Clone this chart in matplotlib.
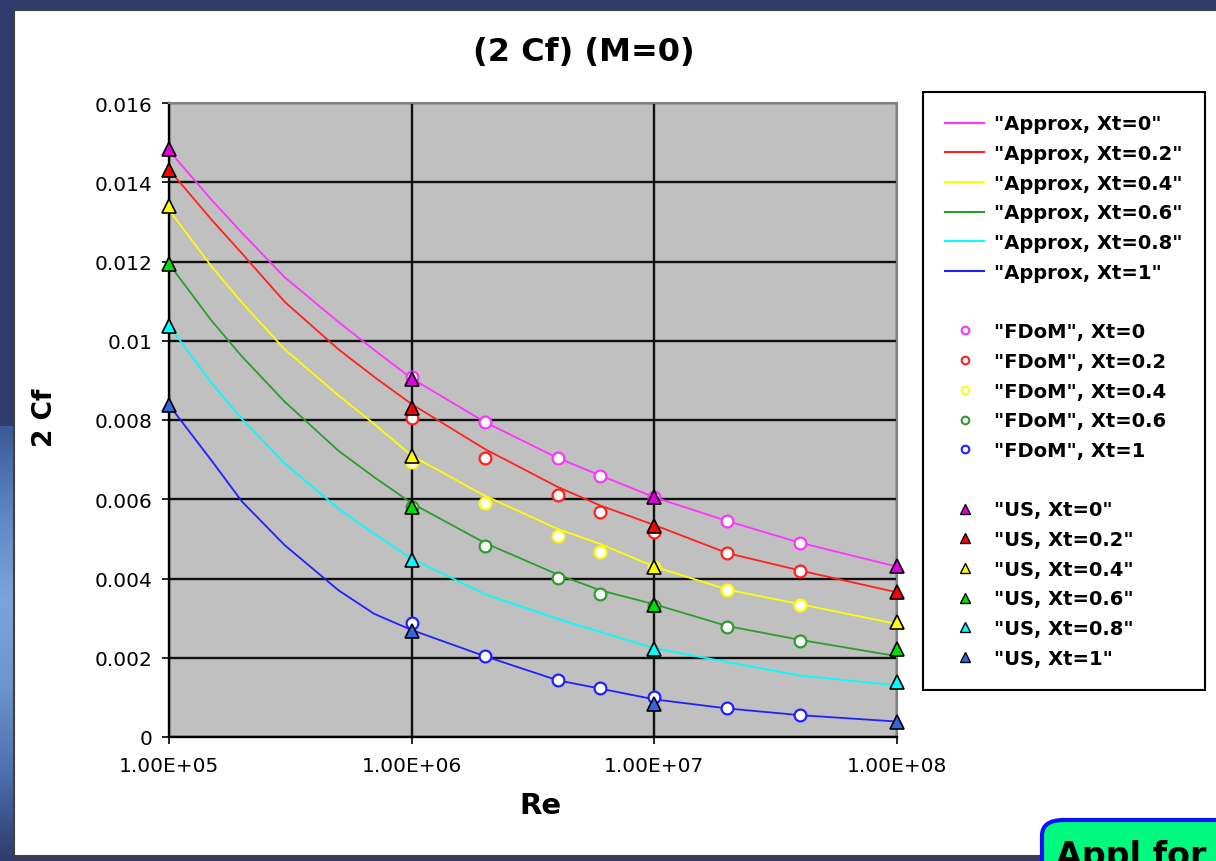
import numpy as np
import matplotlib
matplotlib.use("Agg")
import matplotlib.pyplot as plt
from matplotlib.lines import Line2D
from matplotlib.patches import Rectangle, FancyBboxPatch
from matplotlib.colors import LinearSegmentedColormap

# ---------------------------------------------------------------- data
re_approx = [1e5, 1.5e5, 2e5, 3e5, 5e5, 7e5, 1e6, 2e6, 4e6, 6e6, 1e7, 2e7, 4e7, 1e8]
approx_xt0 = [0.0148, 0.01355, 0.01272, 0.0116, 0.01047, 0.00977, 0.00905,
              0.00795, 0.00704, 0.0066, 0.00605, 0.00545, 0.0049, 0.0043]
approx_xt02 = [0.01432, 0.01305, 0.0122, 0.01098, 0.00978, 0.00909, 0.0084,
               0.00727, 0.00631, 0.00584, 0.00535, 0.00464, 0.0042, 0.00365]
approx_xt04 = [0.0133, 0.01187, 0.01096, 0.00978, 0.00862, 0.0079, 0.0071,
               0.00609, 0.00525, 0.00487, 0.0043, 0.00372, 0.00335, 0.00285]
approx_xt06 = [0.01194, 0.0105, 0.0096, 0.00846, 0.00722, 0.00656, 0.0059,
               0.0049, 0.0041, 0.0037, 0.00335, 0.0028, 0.00245, 0.00204]
approx_xt08 = [0.01038, 0.00893, 0.00802, 0.0069, 0.00576, 0.00513, 0.0045,
               0.00361, 0.00298, 0.00265, 0.00224, 0.00189, 0.00155, 0.0013]
approx_xt1 = [0.00838, 0.00697, 0.00594, 0.00484, 0.0037, 0.00311, 0.0027,
              0.00204, 0.00143, 0.00122, 0.00095, 0.00072, 0.00055, 0.00039]

re_fdom = [1e6, 2e6, 4e6, 6e6, 1e7, 2e7, 4e7]
fdom_xt0 = [0.00908, 0.00795, 0.00704, 0.00659, 0.00606, 0.00545, 0.0049]
fdom_xt02 = [0.00805, 0.00704, 0.00611, 0.00568, 0.00518, 0.00464, 0.0042]
fdom_xt04 = [0.00694, 0.0059, 0.00507, 0.00468, 0.0043, 0.00372, 0.00333]
fdom_xt06 = [0.0058, 0.00482, 0.00401, 0.00361, 0.0033, 0.00278, 0.00243]
fdom_xt1 = [0.00288, 0.00204, 0.00145, 0.00124, 0.00101, 0.00073, 0.00056]

re_us = [1e5, 1e6, 1e7, 1e8]
us_xt0 = [0.01484, 0.00904, 0.00605, 0.00432]
us_xt02 = [0.01432, 0.0083, 0.00533, 0.00366]
us_xt04 = [0.0134, 0.0071, 0.00429, 0.00291]
us_xt06 = [0.01194, 0.0058, 0.00333, 0.00222]
us_xt08 = [0.01038, 0.00447, 0.00222, 0.00139]
us_xt1 = [0.00838, 0.00268, 0.00083, 0.00039]

approx_labels = ['"Approx, Xt=0"', '"Approx, Xt=0.2"', '"Approx, Xt=0.4"',
                 '"Approx, Xt=0.6"', '"Approx, Xt=0.8"', '"Approx, Xt=1"']
fdom_labels = ['"FDoM", Xt=0', '"FDoM", Xt=0.2', '"FDoM", Xt=0.4',
               '"FDoM", Xt=0.6', '"FDoM", Xt=1']
us_labels = ['"US, Xt=0"', '"US, Xt=0.2"', '"US, Xt=0.4"',
             '"US, Xt=0.6"', '"US, Xt=0.8"', '"US, Xt=1"']

xtick_vals = [1e5, 1e6, 1e7, 1e8]
xtick_labels = ["1.00E+05", "1.00E+06", "1.00E+07", "1.00E+08"]
ytick_vals = [0, 0.002, 0.004, 0.006, 0.008, 0.01, 0.012, 0.014, 0.016]
ytick_labels = ["0", "0.002", "0.004", "0.006", "0.008", "0.01", "0.012", "0.014", "0.016"]

# colours
line_cols = ["#FF33FF", "#FF2020", "#FFFF00", "#2E9B2E", "#00FFFF", "#2020FF"]
fdom_cols = ["#FF33FF", "#FF2020", "#FFFF00", "#2E9B2E", "#2020FF"]
us_cols = ["#E000E0", "#FF0000", "#FFFF00", "#00E000", "#00FFFF", "#3366E0"]

W, H = 1216, 862


def fx(px):
    return px / W


def fy(py):
    return 1 - py / H


plt.rcParams['font.family'] = ['DejaVu Sans']

fig = plt.figure(figsize=(W / 100, H / 100), dpi=100)
fig.patch.set_facecolor("#2E3B6C")

# light blue strip on the left edge (background of the screenshot)
strip = fig.add_axes([0, 0, fx(14), 1 - fy(435)], zorder=-5)
cmap = LinearSegmentedColormap.from_list(
    "strip", ["#3B5A98", "#5E86C4", "#7CA4DC", "#6C94CE", "#4D6FAE", "#2E3B6C"])
strip.imshow(np.linspace(0, 1, 200).reshape(-1, 1), aspect="auto", cmap=cmap,
             extent=[0, 1, 0, 1])
strip.set_axis_off()

# white chart area
fig.patches.append(Rectangle((fx(14), fy(857)), fx(1230 - 14), fy(11) - fy(857),
                             transform=fig.transFigure, facecolor="white",
                             edgecolor="#404040", linewidth=1.5, zorder=-1))

ax = fig.add_axes([fx(169), fy(738), fx(897 - 169), fy(104) - fy(738)])
ax.set_facecolor("#C0C0C0")

approx_sets = [approx_xt0, approx_xt02, approx_xt04, approx_xt06, approx_xt08, approx_xt1]
fdom_sets = [fdom_xt0, fdom_xt02, fdom_xt04, fdom_xt06, fdom_xt1]
us_sets = [us_xt0, us_xt02, us_xt04, us_xt06, us_xt08, us_xt1]

for vals, c in zip(approx_sets, line_cols):
    ax.plot(re_approx, vals, color=c, lw=1.3, zorder=3, clip_on=False)
for vals, c in zip(fdom_sets, fdom_cols):
    ax.plot(re_fdom, vals, ls="none", marker="o", ms=8.5, mfc="white", mec=c,
            mew=1.6, zorder=4, clip_on=False)
for vals, c in zip(us_sets, us_cols):
    ax.plot(re_us, vals, ls="none", marker="^", ms=9.5, mfc=c, mec="black",
            mew=1.2, zorder=5, clip_on=False)

ax.set_xscale("log")
ax.set_xlim(1e5, 1e8)
ax.set_ylim(0, 0.016)
ax.set_xticks(xtick_vals)
ax.set_xticklabels(xtick_labels)
ax.xaxis.set_minor_locator(matplotlib.ticker.NullLocator())
ax.set_yticks(ytick_vals)
ax.set_yticklabels(ytick_labels)
ax.tick_params(axis="both", direction="out", length=5, width=1.2, colors="black",
               labelsize=14.5)
ax.tick_params(axis="x", pad=9)
ax.tick_params(axis="y", pad=7)
ax.grid(True, color="#101010", lw=1.7, zorder=1)
ax.set_axisbelow(True)
for s in ["top", "right"]:
    ax.spines[s].set_color("#808080")
    ax.spines[s].set_linewidth(1.5)
for s in ["left", "bottom"]:
    ax.spines[s].set_color("black")
    ax.spines[s].set_linewidth(1.7)

fig.text(fx(584), fy(52), "(2 Cf) (M=0)", ha="center", va="center",
         fontsize=23, fontweight="bold")
fig.text(fx(45), fy(418), "2 Cf", ha="center", va="center", rotation=90,
         fontsize=19, fontweight="bold")
fig.text(fx(540), fy(806), "Re", ha="center", va="center",
         fontsize=21, fontweight="bold")

# legend
handles, labels = [], []
for lab, c in zip(approx_labels, line_cols):
    handles.append(Line2D([], [], color=c, lw=1.5))
    labels.append(lab)
handles.append(Line2D([], [], ls="none"))
labels.append(" ")
for lab, c in zip(fdom_labels, fdom_cols):
    handles.append(Line2D([], [], ls="none", marker="o", ms=5.5, mfc="white",
                          mec=c, mew=1.5))
    labels.append(lab)
handles.append(Line2D([], [], ls="none"))
labels.append(" ")
for lab, c in zip(us_labels, us_cols):
    handles.append(Line2D([], [], ls="none", marker="^", ms=6.5, mfc=c,
                          mec="black", mew=1.0))
    labels.append(lab)

leg = fig.legend(handles, labels, loc="upper left",
                 bbox_to_anchor=(fx(923), fy(694), fx(1205 - 923), fy(93) - fy(694)),
                 mode="expand", borderaxespad=0, borderpad=1.15, labelspacing=0.55,
                 handlelength=2.0, handletextpad=0.5, fancybox=False,
                 framealpha=1, edgecolor="black",
                 prop={"size": 14, "weight": "bold"})
leg.get_frame().set_linewidth(1.5)

# "Appl for" button at the bottom right (cut by the screenshot edge)
fig.patches.append(FancyBboxPatch((fx(1042), fy(900)), fx(220), fy(821) - fy(900),
                                  boxstyle="round,pad=0,rounding_size=0.018",
                                  transform=fig.transFigure, facecolor="#00FA80",
                                  edgecolor="#1010FF", linewidth=3, zorder=5))
fig.text(fx(1056), fy(866), "Appl for", ha="left", va="baseline",
         fontsize=24, fontweight="bold", zorder=6)

fig.savefig("out.png", dpi=100, facecolor=fig.get_facecolor())
